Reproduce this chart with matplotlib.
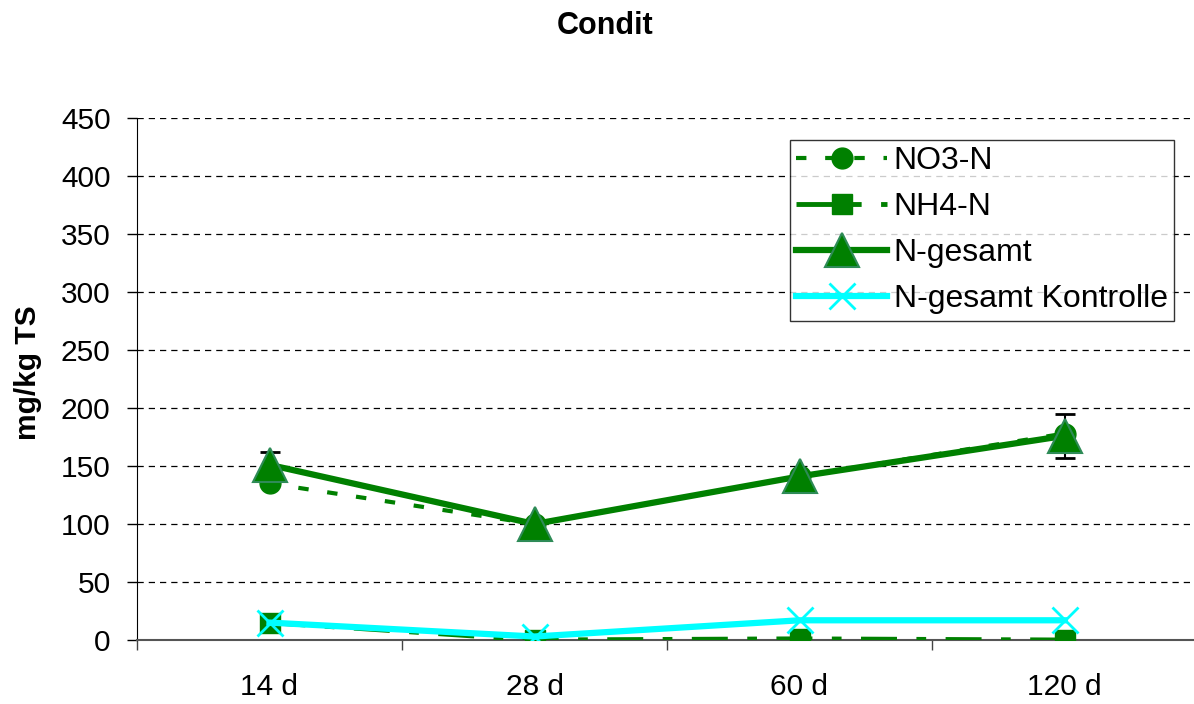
import matplotlib.pyplot as plt
import numpy as np

plt.rcParams['font.family'] = ['Liberation Sans', 'DejaVu Sans']

# data
days = ['14 d', '28 d', '60 d', '120 d']
no3_n = [135, 100, 141, 178]
nh4_n = [15, 0, 1, 0]
n_gesamt = [151, 100, 141, 176]
n_gesamt_err = [11, 0, 0, 19]
n_kontrolle = [15, 3, 17, 17]

fig = plt.figure(figsize=(11.94, 7.04), dpi=100)
ax = fig.add_axes([137/1194, 1-640/704, 1060/1194, 522/704])

x = np.arange(len(days))

ax.plot(x, no3_n, color='#008000', lw=3, linestyle=(0, (2.5, 4.5)),
        marker='o', ms=15, label='NO3-N', zorder=3)
ax.plot(x, nh4_n, color='#008000', lw=3.5, linestyle=(0, (7.4, 4, 2, 4)),
        marker='s', ms=14, label='NH4-N', zorder=3)
ax.errorbar(x, n_gesamt, yerr=n_gesamt_err, fmt='none', ecolor='black',
            elinewidth=1.5, capsize=7, capthick=2, zorder=2)
ax.plot(x, n_gesamt, color='#008000', lw=4.5, marker='^', ms=24,
        markeredgecolor='#2E8B57', markeredgewidth=1.5, label='N-gesamt', zorder=4)
ax.plot(x, n_kontrolle, color='#00FFFF', lw=4.5, marker='x', ms=19,
        markeredgewidth=2, label='N-gesamt Kontrolle', zorder=5)

ax.set_xlim(-0.5, 3.5)
ax.set_ylim(0, 450)
ax.set_yticks(np.arange(0, 451, 50))
ax.set_xticks(x)
ax.set_xticklabels(days)
ax.set_xticks(np.arange(-0.5, 4, 1), minor=True)
ax.tick_params(axis='x', which='major', length=0, pad=24, labelsize=21.5)
ax.tick_params(axis='x', which='minor', length=7, width=1, color='#444444')
ax.tick_params(axis='y', length=7, width=1, labelsize=21.5, pad=12)

ax.yaxis.grid(True, color='black', linestyle=(0, (5, 4)), lw=0.9)
ax.set_axisbelow(True)
ax.spines['top'].set_visible(False)
ax.spines['right'].set_visible(False)
ax.spines['bottom'].set_color('#555555')
ax.spines['bottom'].set_linewidth(1.5)

fig.text(28/1194, 1-373/704, 'mg/kg TS', rotation=90, fontsize=21.5,
         fontweight='bold', ha='center', va='center')
fig.text(605/1194, 1-26/704, 'Condit', fontsize=22, fontweight='bold',
         ha='center', va='center')

leg = ax.legend(loc='upper left', bbox_to_anchor=(790/1194, 1-140/704),
                bbox_transform=fig.transFigure, fontsize=23, frameon=True,
                fancybox=False, edgecolor='black', handlelength=2.85,
                borderaxespad=0, handletextpad=0.2, labelspacing=0.5,
                borderpad=0.2)
leg.get_frame().set_linewidth(1)

plt.savefig('out.png', dpi=100)
